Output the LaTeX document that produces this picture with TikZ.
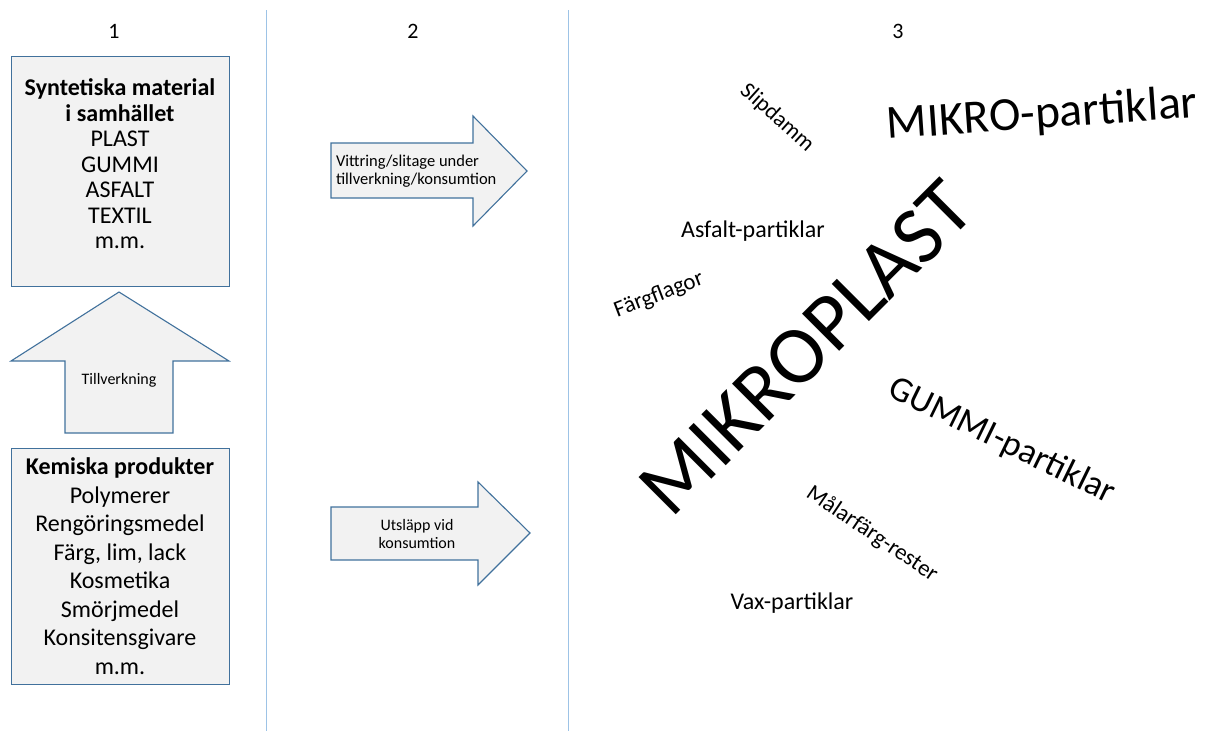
\documentclass[tikz,border=0pt]{standalone}
\usepackage{fontspec}
\setmainfont{Carlito}
\definecolor{boxfill}{RGB}{242,242,242}
\definecolor{boxline}{RGB}{65,113,156}
\definecolor{sepline}{RGB}{157,195,230}
\newcommand\myfs[2]{\fontsize{#1}{#2}\selectfont}
\begin{document}
\begin{tikzpicture}[x=1pt,y=-1pt,
  blk/.style={draw=boxline, fill=boxfill, line width=1.1pt},
  sep/.style={draw=sepline, line width=1pt},
  txt/.style={inner sep=0pt, outer sep=0pt, text=black},
  cloud/.style={inner sep=0pt, outer sep=0pt, text=black}]
\useasboundingbox (0,0) rectangle (1214,731);

% separators
\coordinate (s1t) at (266,10);
\coordinate (s1b) at (266,731);
\coordinate (s2t) at (568,10);
\coordinate (s2b) at (568,731);
\draw[sep] (s1t) -- (s1b);
\draw[sep] (s2t) -- (s2b);

% column numbers
\node[txt, font=\myfs{22}{24}] (n1) at (114,31) {1};
\node[txt, font=\myfs{22}{24}] (n2) at (413,31) {2};
\node[txt, font=\myfs{22}{24}] (n3) at (898,31) {3};

% top box
\node[blk, minimum width=218pt, minimum height=230pt, anchor=north west, inner sep=0pt] (topbox) at (11,56) {};
\node[txt, align=center, font=\myfs{24}{25.5}] (toptext) at (120,164)
  {\textbf{Syntetiska material}\\\textbf{i samhället}\\PLAST\\GUMMI\\ASFALT\\TEXTIL\\m.m.};

% bottom box
\node[blk, minimum width=218pt, minimum height=236pt, anchor=north west, inner sep=0pt] (botbox) at (11,448) {};
\node[txt, align=center, font=\myfs{24}{28.5}] (bottext) at (120,566)
  {\textbf{Kemiska produkter}\\Polymerer\\Rengöringsmedel\\Färg, lim, lack\\Kosmetika\\Smörjmedel\\Konsitensgivare\\m.m.};

% up arrow
\draw[blk] (65,433) -- (65,361) -- (11,361) -- (119,292) -- (229,361) -- (173,361) -- (173,433) -- cycle;
\node[txt, font=\myfs{16}{18}] (upl) at (119,380) {Tillverkning};

% right arrow 1
\draw[blk] (331,143) -- (473,143) -- (473,116) -- (527,171) -- (473,226) -- (473,198) -- (331,198) -- cycle;
\node[txt, anchor=west, align=left, font=\myfs{16.5}{18.5}] (r1l) at (336,171)
  {Vittring/slitage under\\tillverkning/konsumtion};

% right arrow 2
\draw[blk] (331,507) -- (478,507) -- (478,482) -- (530,533) -- (478,585) -- (478,560) -- (331,560) -- cycle;
\node[txt, align=center, font=\myfs{16}{18.5}] (r2l) at (417,534)
  {Utsläpp vid\\konsumtion};

% word cloud
\node[cloud, rotate=-42, font=\myfs{22.5}{24}] (slip) at (777,118) {Slipdamm};
\node[cloud, anchor=base, rotate=4, font=\myfs{47.5}{50}] (mikrop) at (1043,128) {MIKRO-partiklar};
\node[cloud, anchor=base, font=\myfs{24}{26}] (asfalt) at (753,237) {Asfalt-partiklar};
\node[cloud, rotate=21, font=\myfs{23}{25}] (farg) at (659,295) {Färgflagor};
\node[cloud, rotate=45, font=\myfs{82}{86}] (mikro) at (806,348) {MIKROPLAST};
\node[cloud, rotate=-26, font=\myfs{35.5}{38}] (gummi) at (1002,441) {GUMMI-partiklar};
\node[cloud, rotate=-34, font=\myfs{23}{25}] (malar) at (872,534) {Målarfärg-rester};
\node[cloud, anchor=base, font=\myfs{24}{26}] (vax) at (792,609) {Vax-partiklar};
\end{tikzpicture}
\end{document}
